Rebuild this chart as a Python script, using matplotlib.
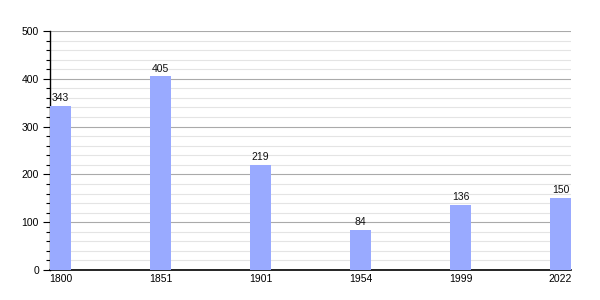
import matplotlib
matplotlib.use("Agg")
import matplotlib.pyplot as plt
from matplotlib.ticker import MultipleLocator

plt.rcParams["font.family"] = ["Liberation Sans", "DejaVu Sans"]

years = ["1800", "1851", "1901", "1954", "1999", "2022"]
population = [343, 405, 219, 84, 136, 150]

fig = plt.figure(figsize=(6, 3), dpi=100)
ax = fig.add_axes([50/600, 30/300, 521/600, 239/300])

pos = list(range(len(years)))
bar_w = 0.21
ax.bar(pos, population, width=bar_w, align="edge", color="#99aaff", zorder=3)
for p, v in zip(pos, population):
    ax.text(p + bar_w/2, v + 6, str(v), ha="center", va="bottom", fontsize=7.5, color="#111111")

ax.set_xlim(0, len(years) - 1 + bar_w)
ax.set_ylim(0, 500)
ax.set_xticks([p + bar_w/2 for p in pos])
ax.set_xticklabels(years, fontsize=7.5)
ax.tick_params(axis="x", length=0, pad=3)
ax.yaxis.set_major_locator(MultipleLocator(100))
ax.yaxis.set_minor_locator(MultipleLocator(20))
ax.tick_params(axis="y", which="major", length=5, width=0.8, labelsize=7.5, pad=3)
ax.tick_params(axis="y", which="minor", length=3, width=0.8)
ax.grid(axis="y", which="major", color="#aaaaaa", linewidth=0.8, zorder=0)
ax.grid(axis="y", which="minor", color="#e4e4e4", linewidth=0.8, zorder=0)
for s in ["top", "right"]:
    ax.spines[s].set_visible(False)
ax.spines["left"].set_linewidth(1)
ax.spines["bottom"].set_linewidth(1.2)
ax.set_axisbelow(True)

fig.savefig("out.png", dpi=100)
